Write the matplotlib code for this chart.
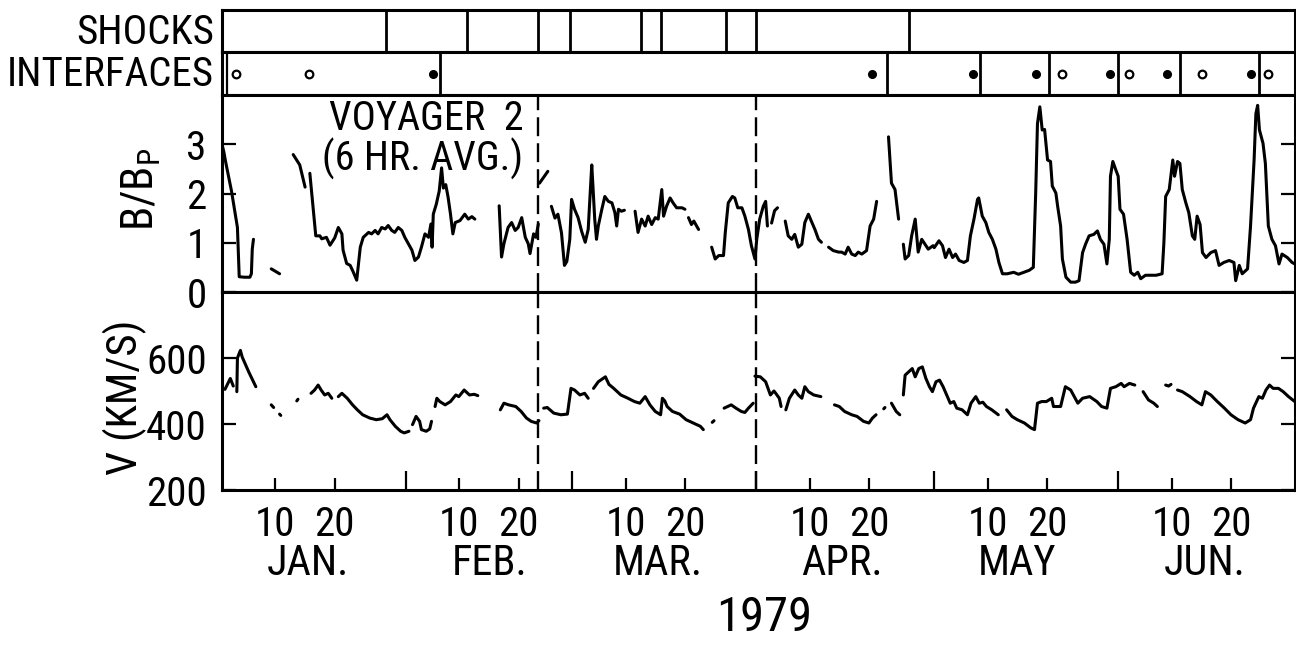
import numpy as np
import matplotlib
matplotlib.use("Agg")
import matplotlib.pyplot as plt
from matplotlib import font_manager
from matplotlib.font_manager import FontProperties

# ---------------- data ----------------
# days counted from 1979-01-01 (day 0)
shock_days = [27.6, 41.3, 53.3, 58.7, 70.6, 73.9, 84.9, 90.0, 115.7]
interface_days = [36.7, 112.0, 127.7, 139.3, 150.9, 161.4, 174.7]
interface_filled = [35.5, 109.5, 126.5, 137.2, 149.6, 159.2, 173.4]
interface_open = [2.4, 14.7, 141.5, 152.8, 165.1, 176.3]
dashed_days = [53.3, 90.0]

# B/Bp segments: (day, value)
b_seg1 = [(0.1, 2.95), (0.3, 2.85), (0.6, 2.65), (1.6, 2.05), (2.6, 1.31), (2.9, 0.31), (3.8, 0.30),
          (4.7, 0.30), (4.95, 0.37), (5.1, 0.87), (5.3, 1.07)]
b_seg2 = [(8.3, 0.47), (9.0, 0.42), (9.7, 0.37)]
b_seg3 = [(12.0, 2.79), (13.1, 2.58), (14.0, 2.13)]
b_seg4 = [(14.8, 2.41), (15.8, 1.14), (16.5, 1.14), (16.8, 1.08), (17.6, 1.11), (18.2, 0.95), (19.0, 1.10),
          (19.6, 1.31), (20.2, 1.18), (20.4, 0.85), (21.0, 0.58), (21.6, 0.54), (22.1, 0.41), (22.7, 0.24),
          (23.3, 0.91), (23.8, 1.11), (24.7, 1.21), (25.2, 1.18), (25.8, 1.25), (26.3, 1.18), (26.9, 1.31),
          (27.5, 1.28), (28.0, 1.35), (28.6, 1.25), (29.1, 1.21), (29.7, 1.31), (30.3, 1.25), (30.8, 1.11),
          (31.4, 0.98), (32.0, 0.85), (32.5, 0.64), (33.1, 0.71), (33.6, 0.91), (34.2, 1.18), (34.8, 1.11),
          (35.2, 1.38), (35.4, 0.91), (35.6, 1.58), (36.1, 1.78), (36.6, 2.05), (37.0, 2.52), (37.3, 2.11),
          (37.7, 2.18), (38.1, 1.92), (38.5, 1.58), (38.9, 1.18), (39.3, 1.41), (40.1, 1.45), (40.9, 1.58),
          (41.5, 1.48), (42.1, 1.53), (42.6, 1.48)]
b_seg5 = [(46.7, 1.75), (47.1, 0.71), (47.5, 0.98), (48.2, 1.31), (48.8, 1.41), (49.4, 1.25), (49.9, 1.31),
          (50.5, 1.51), (51.1, 1.11), (51.6, 0.98), (51.9, 0.78), (52.5, 1.18), (52.9, 1.11), (53.3, 1.38)]
b_seg6 = [(53.5, 2.21), (54.2, 2.33), (54.9, 2.45)]
b_seg7 = [(55.5, 1.74), (56.1, 1.50), (56.6, 1.58), (57.2, 1.20), (57.7, 0.54), (58.1, 0.62), (58.6, 1.07),
          (58.9, 1.88), (59.4, 1.68), (60.0, 1.51), (60.6, 1.23), (61.2, 1.01), (61.7, 1.27), (62.3, 2.58),
          (62.5, 2.15), (62.8, 1.48), (63.1, 1.07), (63.4, 1.34), (64.0, 1.68), (64.5, 1.94), (65.1, 1.84),
          (65.7, 1.81), (66.2, 1.61), (66.5, 1.34), (66.8, 1.68), (67.3, 1.64), (67.8, 1.66)]
b_seg8 = [(69.6, 1.64), (70.1, 1.21), (70.7, 1.48), (71.3, 1.34), (71.8, 1.54), (72.4, 1.37), (73.0, 1.51),
          (73.5, 1.48), (74.1, 2.08), (74.4, 1.54), (74.9, 1.74), (75.5, 1.91), (76.0, 1.81), (76.6, 1.71),
          (77.5, 1.71), (78.0, 1.68)]
b_seg9 = [(78.6, 1.51), (79.1, 1.37), (79.5, 1.44), (80.3, 1.27)]
b_seg10 = [(82.5, 0.91), (83.1, 0.67), (83.7, 0.74), (84.5, 0.74), (84.8, 1.21), (85.3, 1.81), (86.0, 1.94),
           (86.4, 1.91), (86.9, 1.71), (87.6, 1.71), (88.1, 1.54), (88.7, 1.27), (89.2, 0.94), (89.8, 0.67),
           (90.1, 1.07), (90.6, 1.48), (91.2, 1.74), (91.6, 1.84), (91.9, 1.34)]
b_seg11 = [(92.6, 1.40), (93.1, 1.65), (93.6, 1.71)]
b_seg12 = [(94.9, 1.44), (95.4, 1.14), (96.0, 1.07), (96.5, 1.17), (97.1, 0.91), (97.7, 0.97), (98.2, 1.41),
           (98.8, 1.58), (99.4, 1.41), (99.9, 1.27), (100.5, 1.07), (101.0, 1.01)]
b_seg13 = [(102.2, 0.91), (103.0, 0.84), (103.9, 0.81), (104.4, 0.81), (105.0, 0.77), (105.5, 0.91),
           (106.1, 0.77), (106.7, 0.74), (107.2, 0.81), (107.8, 0.77), (108.6, 0.84), (109.2, 1.34),
           (109.8, 1.48), (110.3, 1.84)]
b_seg14 = [(112.3, 3.15), (112.8, 2.21), (113.4, 2.08), (114.0, 1.48)]
b_seg15 = [(114.8, 0.97), (115.1, 0.67), (115.7, 0.74), (116.2, 1.14), (116.8, 1.48), (117.3, 0.81),
           (117.9, 1.07), (119.0, 0.87), (119.8, 0.94), (120.0, 0.90), (120.8, 1.04), (121.4, 0.94),
           (121.9, 0.70), (122.5, 0.87), (123.1, 0.70), (123.6, 0.77), (124.2, 0.64), (125.0, 0.60),
           (125.6, 0.64), (126.1, 1.14), (126.7, 1.48), (127.3, 1.88), (127.5, 1.91), (128.1, 1.54),
           (128.7, 1.41), (129.2, 1.21), (129.8, 1.07), (130.4, 0.87), (130.9, 0.60), (131.5, 0.37),
           (132.3, 0.37), (133.4, 0.40), (134.2, 0.36), (135.1, 0.40), (136.0, 0.44), (136.7, 0.50),
           (137.1, 2.01), (137.4, 3.42), (137.8, 3.76), (138.2, 3.29), (138.6, 3.30), (139.1, 2.68),
           (139.6, 2.65), (139.9, 2.15), (140.5, 2.01), (140.8, 1.74), (141.3, 1.34), (141.6, 0.67),
           (142.2, 0.30), (143.0, 0.20), (143.8, 0.20), (144.4, 0.23), (145.0, 0.80), (145.5, 0.97),
           (146.1, 1.14), (146.9, 1.17), (147.5, 1.24), (148.0, 1.07), (148.6, 0.97), (149.1, 0.57),
           (149.5, 1.07), (149.7, 2.35), (150.1, 2.65), (150.6, 2.48), (151.0, 2.35), (151.3, 1.68),
           (151.9, 1.58), (152.5, 1.07), (153.1, 0.40), (153.7, 0.34), (154.3, 0.40), (154.8, 0.27),
           (155.6, 0.34), (156.5, 0.34), (157.4, 0.34), (158.4, 0.37), (158.7, 1.00), (159.0, 1.94),
           (159.6, 2.08), (160.2, 2.68), (160.5, 2.35), (161.0, 2.65), (161.4, 2.61), (161.8, 2.08),
           (162.4, 1.81), (162.9, 1.61), (163.5, 1.14), (163.9, 1.07), (164.3, 1.54), (164.8, 1.37),
           (165.2, 0.80), (165.8, 0.70), (166.6, 0.80), (167.4, 0.84), (168.0, 0.54), (168.8, 0.60),
           (169.7, 0.64), (170.5, 0.60), (170.8, 0.23), (171.4, 0.54), (171.9, 0.37), (172.8, 0.47),
           (173.3, 1.34), (173.9, 2.68), (174.2, 3.62), (174.5, 3.79), (174.8, 3.29), (175.4, 3.02),
           (175.8, 2.61), (176.3, 1.34), (176.9, 1.07), (177.5, 0.94), (178.1, 0.57), (178.6, 0.77),
           (179.5, 0.70), (180.3, 0.60), (181.2, 0.54)]
b_segments = [b_seg1, b_seg2, b_seg3, b_seg4, b_seg5, b_seg6, b_seg7, b_seg8, b_seg9, b_seg10,
              b_seg11, b_seg12, b_seg13, b_seg14, b_seg15]

# V (km/s) segments: (day, value)
v_seg1 = [(0.5, 505), (1.4, 538), (1.9, 515)]
v_seg2 = [(2.5, 498), (2.6, 600), (3.1, 623), (3.4, 603), (4.5, 558), (5.7, 513)]
v_seg3 = [(8.3, 458), (8.7, 450)]
v_seg4 = [(9.7, 430), (9.9, 426)]
v_seg5 = [(12.6, 470), (12.8, 475)]
v_seg6 = [(15.0, 493), (15.6, 503), (16.2, 518), (16.7, 503), (17.3, 488), (17.9, 493), (18.5, 478)]
v_seg7 = [(19.6, 483), (20.2, 493), (21.1, 478), (22.0, 458), (22.8, 443), (23.7, 428), (24.9, 418),
          (26.0, 413), (27.0, 416), (27.8, 428), (28.3, 413), (29.2, 393), (30.1, 378), (30.7, 373),
          (31.5, 378)]
v_seg8 = [(32.1, 398), (32.7, 423), (33.3, 408), (33.6, 383), (34.4, 378), (35.0, 385), (35.3, 408)]
v_seg9 = [(35.9, 453), (36.2, 478), (36.7, 468), (37.6, 458), (38.5, 468), (39.4, 488), (39.9, 483),
          (40.8, 503), (41.7, 488), (42.5, 490), (43.1, 486)]
v_seg10 = [(46.9, 443), (47.5, 463), (48.3, 458), (49.5, 453), (50.4, 438), (51.3, 418), (52.1, 408),
           (53.0, 403), (53.4, 410)]
v_seg11 = [(54.2, 448), (54.8, 450), (55.9, 433), (57.1, 428), (58.2, 430), (58.8, 508), (59.4, 503),
           (60.3, 488), (61.1, 493), (61.7, 478)]
v_seg12 = [(62.6, 508), (63.4, 528), (64.6, 543), (65.2, 520), (66.0, 508), (67.2, 488), (68.4, 478),
           (69.5, 468), (70.4, 463), (71.3, 483), (72.1, 458), (73.0, 438), (73.9, 428), (74.2, 478),
           (74.6, 470), (75.0, 453), (75.9, 438), (77.1, 430), (78.2, 413), (79.4, 403), (80.6, 393),
           (81.1, 383)]
v_seg13 = [(82.6, 405), (82.9, 410)]
v_seg14 = [(84.6, 448), (85.8, 458), (86.6, 448), (87.5, 438), (88.1, 435), (88.7, 448), (89.5, 463)]
v_seg15 = [(89.8, 545), (90.7, 543), (91.6, 528), (92.4, 488), (93.0, 500), (93.3, 493), (93.9, 478),
           (94.2, 453)]
v_seg16 = [(95.0, 443), (95.6, 478), (96.5, 503), (97.1, 488), (97.7, 478), (98.2, 513), (98.8, 498),
           (99.7, 488), (100.9, 483)]
v_seg17 = [(103.2, 458), (104.0, 453), (104.9, 438), (106.1, 428), (107.0, 423), (108.1, 408),
           (109.0, 403), (109.6, 418), (110.2, 428)]
v_seg18 = [(111.5, 446), (111.7, 450)]
v_seg19 = [(112.8, 463), (113.6, 438), (114.2, 428)]
v_seg20 = [(114.8, 488), (115.1, 548), (115.7, 558), (116.3, 568), (116.8, 543), (117.4, 568), (118.0, 573),
           (118.6, 538), (119.2, 513), (119.7, 498), (120.3, 528), (120.9, 533), (121.5, 513), (122.1, 488),
           (122.7, 463), (123.3, 468), (123.8, 448), (124.7, 443), (125.6, 428), (126.2, 463), (127.0, 483),
           (127.6, 463), (128.2, 466), (128.8, 453), (129.7, 443), (130.8, 428)]
v_seg21 = [(132.2, 443), (133.1, 423), (134.0, 413), (135.2, 403), (136.3, 388), (136.9, 383), (137.4, 463),
           (138.1, 468), (138.9, 468), (139.8, 478), (140.1, 453), (141.3, 453), (142.1, 513), (143.0, 503),
           (144.2, 463), (145.0, 478), (146.2, 483), (147.4, 468), (148.2, 453), (149.1, 448), (149.7, 508),
           (150.6, 513), (151.5, 523), (152.0, 513), (152.9, 523), (153.8, 518)]
v_seg22 = [(155.2, 498), (156.1, 473), (157.0, 463), (157.6, 453)]
v_seg23 = [(159.0, 518), (159.5, 515), (159.9, 520)]
v_seg24 = [(161.0, 503), (161.8, 498), (163.1, 483), (164.2, 468), (165.1, 458), (165.7, 498), (166.6, 488),
           (167.7, 468), (168.9, 448), (170.0, 428), (171.2, 413), (172.4, 403), (173.3, 413), (173.8, 448),
           (174.7, 483), (175.3, 478), (175.9, 503), (176.5, 518), (177.1, 508), (178.0, 508), (178.8, 498),
           (179.7, 483), (181.1, 463)]
v_segments = [v_seg1, v_seg2, v_seg3, v_seg4, v_seg5, v_seg6, v_seg7, v_seg8, v_seg9, v_seg10, v_seg11,
              v_seg12, v_seg13, v_seg14, v_seg15, v_seg16, v_seg17, v_seg18, v_seg19, v_seg20, v_seg21,
              v_seg22, v_seg23, v_seg24]

month_starts = [31, 59, 90, 120, 151]
day_ticks = [9, 19, 40, 50, 68, 78, 99, 109, 129, 139, 160, 170]
day_tick_labels = ["10", "20"] * 6
month_names = ["JAN.", "FEB.", "MAR.", "APR.", "MAY", "JUN."]
month_label_days = [14.5, 45.0, 73.5, 104.5, 134.0, 165.5]
b_yticks = [0, 1, 2, 3]
v_yticks = [200, 400, 600]

# ---------------- font: look for a condensed sans ----------------
def find_condensed():
    best = None
    for f in font_manager.fontManager.ttflist:
        fn = f.fname.lower()
        nm = f.name.lower()
        cond = ("narrow" in nm or "condensed" in nm or "narrow" in fn or "condensed" in fn
                or f.stretch in ("condensed", "semi-condensed", "extra-condensed"))
        if not cond:
            continue
        if any(k in fn for k in ("bold", "italic", "oblique", "light", "thin", "black", "medium", "semibold")):
            continue
        if "mono" in nm or ("serif" in nm and "sans" not in nm):
            continue
        if "liberation" in nm:
            score = 5
        elif "roboto" in nm:
            score = 4
        elif "dejavu" in nm:
            score = 3
        elif "noto" in nm or "open" in nm:
            score = 2
        else:
            score = 1
        if best is None or score > best[0]:
            best = (score, f.fname)
    return best[1] if best else None

cond_path = find_condensed()
plt.rcParams["font.family"] = ["DejaVu Sans"]
if cond_path:
    SCALE = 1.0
    def fp(size):
        return FontProperties(fname=cond_path, size=size)
else:
    SCALE = 0.82
    def fp(size):
        return FontProperties(family="DejaVu Sans", size=size)

FS_BAR = 29.5 * SCALE
FS_TICK = 29.5 * SCALE
FS_MONTH = 30.5 * SCALE
FS_YEAR = 35 * SCALE
FS_LABEL = 31 * SCALE
FS_VOY = 28 * SCALE

W, H = 1296, 646
fig = plt.figure(figsize=(W / 100, H / 100), dpi=100)

def rect(x0, y0, x1, y1):
    return [x0 / W, 1 - y1 / H, (x1 - x0) / W, (y1 - y0) / H]

X0, X1 = 222, 1295
XLIM = (0, (X1 - X0) / 5.935)
LW_SP = 2.2

ax_s = fig.add_axes(rect(X0, 10, X1, 52))
ax_i = fig.add_axes(rect(X0, 52, X1, 95))
ax_b = fig.add_axes(rect(X0, 95, X1, 292))
ax_v = fig.add_axes(rect(X0, 292, X1, 490))

for ax in (ax_s, ax_i, ax_b, ax_v):
    ax.set_xlim(*XLIM)
    for sp in ax.spines.values():
        sp.set_linewidth(LW_SP)

for ax in (ax_s, ax_i):
    ax.set_ylim(0, 1)
    ax.set_xticks([])
    ax.set_yticks([])

for d in shock_days:
    ax_s.axvline(d, color="black", lw=2.0)
for d in interface_days:
    ax_i.axvline(d, color="black", lw=2.0)
ax_i.axvline(0.8, color="black", lw=1.6)
ax_i.plot(interface_filled, [0.5] * len(interface_filled), "o", color="black", ms=5.5)
ax_i.plot(interface_open, [0.5] * len(interface_open), "o", mfc="white", mec="black", mew=1.6, ms=5.5)

fig.text(214 / W, 1 - 32 / H, "SHOCKS", ha="right", va="center", fontproperties=fp(FS_BAR))
fig.text(214 / W, 1 - 74 / H, "INTERFACES", ha="right", va="center", fontproperties=fp(FS_BAR))

for seg in b_segments:
    d, v = zip(*seg)
    ax_b.plot(d, v, color="black", lw=2.2, solid_joinstyle="round", solid_capstyle="round")
for seg in v_segments:
    d, v = zip(*seg)
    ax_v.plot(d, v, color="black", lw=2.2, solid_joinstyle="round", solid_capstyle="round")

for ax in (ax_b, ax_v):
    for d in dashed_days:
        ax.axvline(d, color="black", lw=1.7, dashes=(8, 3))

ax_b.set_ylim(0, 4)
ax_b.set_yticks(b_yticks)
ax_b.set_xticks([])
ax_b.tick_params(axis="y", direction="in", length=10, width=1.6, right=True, pad=11)
ax_b.set_ylabel(r"B/B$_\mathregular{P}$", fontproperties=fp(FS_LABEL + 1))
ax_b.yaxis.label.set_verticalalignment("center")
ax_b.yaxis.set_label_coords(-0.075, 0.52)

ax_v.set_ylim(200, 800)
ax_v.set_yticks(v_yticks)
ax_v.tick_params(axis="y", direction="in", length=10, width=1.6, right=True, pad=11)
ax_v.set_ylabel("V (KM/S)", fontproperties=fp(FS_LABEL))
ax_v.yaxis.label.set_verticalalignment("center")
ax_v.yaxis.set_label_coords(-0.09, 0.47)

ax_v.set_xticks(month_starts)
ax_v.set_xticklabels([])
ax_v.set_xticks(day_ticks, minor=True)
ax_v.set_xticklabels(day_tick_labels, minor=True)
ax_v.tick_params(axis="x", which="major", direction="in", length=14, width=1.6)
ax_v.tick_params(axis="x", which="minor", direction="in", length=9, width=1.6, pad=11)

for ax in (ax_b, ax_v):
    for lab in ax.get_yticklabels():
        lab.set_fontproperties(fp(FS_TICK))
for lab in ax_v.get_xticklabels(minor=True):
    lab.set_fontproperties(fp(FS_TICK))

tr = ax_v.get_xaxis_transform()
for d, name in zip(month_label_days, month_names):
    ax_v.text(d, -0.37, name, transform=tr, ha="center", va="center", fontproperties=fp(FS_MONTH))
ax_v.text(91.3, -0.645, "1979", transform=tr, ha="center", va="center", fontproperties=fp(FS_YEAR))

ax_b.text(50.8, 3.52, "VOYAGER  2", ha="right", va="center", fontproperties=fp(FS_VOY + 1))
ax_b.text(50.8, 2.70, "(6 HR. AVG.)", ha="right", va="center", fontproperties=fp(FS_VOY + 1))

fig.savefig("out.png", dpi=100)
